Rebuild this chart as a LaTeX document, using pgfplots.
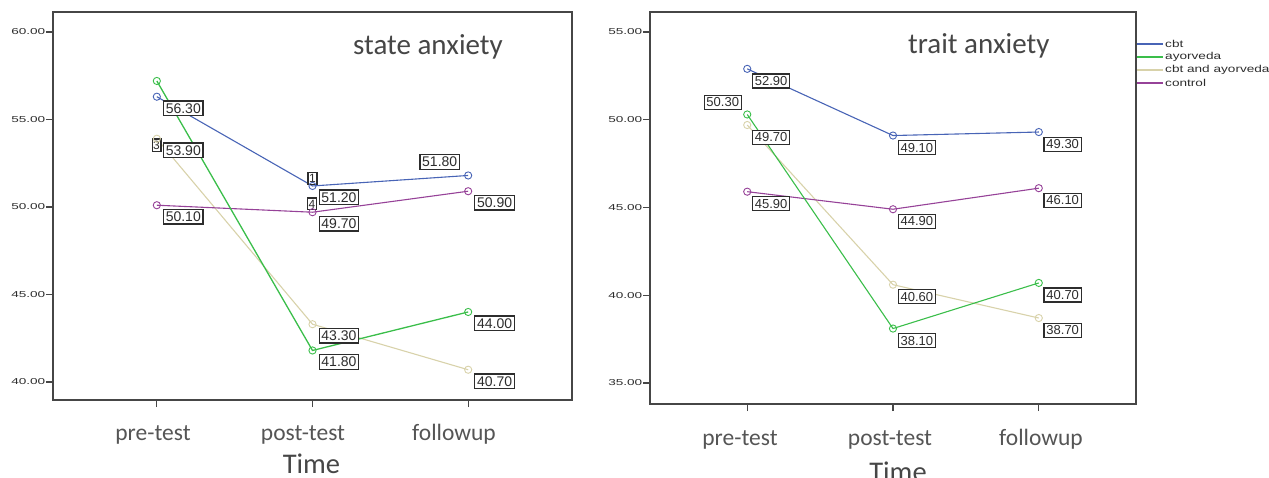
\documentclass[border=0pt]{standalone}
\usepackage{graphicx}
\usepackage{pgfplots}
\pgfplotsset{compat=1.18}
\usepackage{fontspec}
\setmainfont{Liberation Sans}
\newfontfamily\calfont{Carlito}
\definecolor{cbtc}{RGB}{72,100,182}
\definecolor{ayuc}{RGB}{58,190,74}
\definecolor{bothc}{RGB}{216,210,170}
\definecolor{ctrlc}{RGB}{150,66,152}
\definecolor{axgray}{RGB}{70,70,70}
\definecolor{labc}{RGB}{45,45,45}
\definecolor{txtc}{RGB}{85,85,85}
\newcommand\tl[1]{\scalebox{1.58}[1]{\fontsize{8.6}{9}\selectfont #1}}
\newcommand\leglab[1]{\scalebox{1.36}[1]{\fontsize{10}{10}\selectfont #1}}
\pgfplotsset{
  base/.style={
    scale only axis, clip=false,
    xmin=-0.667, xmax=2.667,
    xtick={0,1,2}, xticklabels={},
    axis line style={draw=axgray, line width=1.5pt},
    tick style={draw=axgray, line width=1.2pt},
    tick align=outside, major tick length=7pt,
    xtick pos=bottom, ytick pos=left,
    yticklabel style={inner sep=0.5pt, text=labc},
  },
  ser/.style={line width=1.1pt, mark=o, mark size=3.6pt, mark options={line width=0.9pt}},
}
\tikzset{
  lab/.style={draw=labc, line width=1.3pt, fill=white, inner xsep=2.3pt, inner ysep=2.4pt,
     font=\fontsize{14}{14}\selectfont, text=labc},
  labr/.style={lab, font=\fontsize{13}{13}\selectfont},
  br/.style={anchor=north west, xshift=6pt, yshift=-3.5pt},
  brr/.style={anchor=north west, xshift=4.7pt, yshift=-4.5pt},
}
\begin{document}
\begin{tikzpicture}
\useasboundingbox (0,0) rectangle (1269pt,-477pt);
% ---------------- state anxiety ----------------
\begin{axis}[base, at={(53pt,-400pt)}, anchor=south west, width=519pt, height=388pt,
  ymin=38.97, ymax=61.14, ytick={40,45,50,55,60},
  yticklabels={\tl{40.00},\tl{45.00},\tl{50.00},\tl{55.00},\tl{60.00}}]
\addplot[ser, color=bothc] coordinates {(0,53.9) (1,43.3) (2,40.7)};
\addplot[ser, color=ctrlc] coordinates {(0,50.1) (1,49.7) (2,50.9)};
\addplot[ser, color=cbtc] coordinates {(0,56.3) (1,51.2) (2,51.8)};
\addplot[ser, color=ayuc, line width=1.3pt] coordinates {(0,57.2) (1,41.8) (2,44.0)};
\node[lab, br] at (axis cs:0,56.3) {56.30};
\node[lab, br] at (axis cs:0,53.9) {53.90};
\node[lab, br] at (axis cs:0,50.1) {50.10};
\node[lab, br] at (axis cs:1,51.2) {51.20};
\node[lab, br] at (axis cs:1,49.7) {49.70};
\node[lab, br] at (axis cs:1,43.3) {43.30};
\node[lab, br] at (axis cs:1,41.8) {41.80};
\node[lab, anchor=south east, xshift=-8pt, yshift=5.5pt] at (axis cs:2,51.8) {51.80};
\node[lab, br] at (axis cs:2,50.9) {50.90};
\node[lab, br] at (axis cs:2,44.0) {44.00};
\node[lab, br] at (axis cs:2,40.7) {40.70};
\node[lab, inner xsep=1pt, inner ysep=2pt, font=\fontsize{12}{12}\selectfont, anchor=north east, xshift=4.7pt, yshift=0.5pt] at (axis cs:0,53.9) {3};
\node[lab, inner xsep=1.3pt, inner ysep=1.8pt, font=\fontsize{12}{12}\selectfont, anchor=south, yshift=1pt] at (axis cs:1,51.2) {1};
\node[lab, inner xsep=1.3pt, inner ysep=1.8pt, font=\fontsize{12}{12}\selectfont, anchor=south, yshift=1.75pt, xshift=-0.5pt] at (axis cs:1,49.7) {4};
\end{axis}
% ---------------- trait anxiety ----------------
\begin{axis}[base, at={(650pt,-404pt)}, anchor=south west, width=486pt, height=392pt,
  ymin=33.8, ymax=56.14, ytick={35,40,45,50,55},
  yticklabels={\tl{35.00},\tl{40.00},\tl{45.00},\tl{50.00},\tl{55.00}}]
\addplot[ser, color=bothc] coordinates {(0,49.7) (1,40.6) (2,38.7)};
\addplot[ser, color=ctrlc] coordinates {(0,45.9) (1,44.9) (2,46.1)};
\addplot[ser, color=cbtc] coordinates {(0,52.9) (1,49.1) (2,49.3)};
\addplot[ser, color=ayuc] coordinates {(0,50.3) (1,38.1) (2,40.7)};
\node[labr, brr] at (axis cs:0,52.9) {52.90};
\node[labr, anchor=south east, xshift=-5.3pt, yshift=4.5pt] at (axis cs:0,50.3) {50.30};
\node[labr, brr] at (axis cs:0,49.7) {49.70};
\node[labr, brr] at (axis cs:0,45.9) {45.90};
\node[labr, brr] at (axis cs:1,49.1) {49.10};
\node[labr, brr] at (axis cs:1,44.9) {44.90};
\node[labr, brr] at (axis cs:1,40.6) {40.60};
\node[labr, brr] at (axis cs:1,38.1) {38.10};
\node[labr, brr] at (axis cs:2,49.3) {49.30};
\node[labr, brr] at (axis cs:2,46.1) {46.10};
\node[labr, brr] at (axis cs:2,40.7) {40.70};
\node[labr, brr] at (axis cs:2,38.7) {38.70};
\end{axis}
% ---------------- texts ----------------
\begin{scope}[every node/.style={inner sep=0pt}]
\node[anchor=base west, text=axgray, font=\calfont\fontsize{29}{29}\selectfont] at (353pt,-54pt) {state anxiety};
\node[anchor=base west, text=axgray, font=\calfont\fontsize{29}{29}\selectfont] at (908pt,-53pt) {trait anxiety};
\foreach \x/\t in {153/pre-test, 303/post-test, 454/followup}
  \node[anchor=base, text=txtc, font=\calfont\fontsize{23.5}{24}\selectfont] at (\x pt,-440pt) {\t};
\foreach \x/\t in {740/pre-test, 890/post-test, 1041/followup}
  \node[anchor=base, text=txtc, font=\calfont\fontsize{23.5}{24}\selectfont] at (\x pt,-445pt) {\t};
\node[anchor=base, text=axgray, font=\calfont\fontsize{28.5}{29}\selectfont] at (311.5pt,-473pt) {Time};
\node[anchor=base, text=axgray, font=\calfont\fontsize{28.5}{29}\selectfont] at (898pt,-481pt) {Time};
% legend
\foreach \y/\c/\t in {44/cbtc/cbt, 57/ayuc/ayorveda, 70/bothc/cbt and ayorveda, 83/ctrlc/control}{
  \draw[\c, line width=1.5pt] (1137pt,-\y pt) -- (1163pt,-\y pt);
  \node[anchor=west, text=labc, xshift=2pt] at (1163pt,-\y pt) {\leglab{\t}};
}
\end{scope}
\end{tikzpicture}
\end{document}
